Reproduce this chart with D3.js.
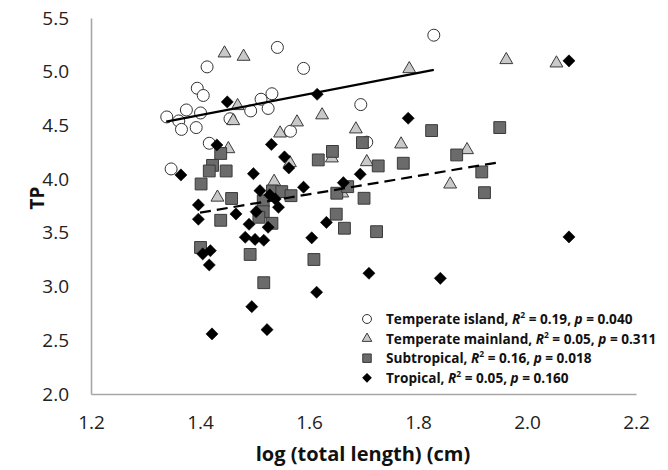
<!DOCTYPE html>
<html><head><meta charset="utf-8">
<script src="https://cdn.jsdelivr.net/npm/d3@7"></script>
<style>body{margin:0;background:#fff}svg{display:block}</style>
</head><body>
<svg id="c" width="668" height="470"></svg>
<script>
// ---- data ----
const xTicks = [1.2, 1.4, 1.6, 1.8, 2.0, 2.2];
const yTicks = [2.0, 2.5, 3.0, 3.5, 4.0, 4.5, 5.0, 5.5];

const islandX = [1.339,1.361,1.366,1.375,1.393,1.395,1.401,1.406,1.413,1.417,1.455,1.493,1.512,1.525,1.532,1.542,1.566,1.590,1.347,1.695,1.706,1.829];
const islandY = [4.579,4.542,4.463,4.644,4.480,4.846,4.616,4.779,5.045,4.334,4.562,4.635,4.744,4.658,4.795,5.226,4.446,5.031,4.095,4.694,4.344,5.340];

const mainlandX = [1.445,1.480,1.469,1.461,1.578,1.547,1.452,1.624,1.565,1.536,1.432,1.784,1.962,2.054,1.686,1.769,1.890,1.706,1.859,1.642,1.661];
const mainlandY = [5.172,5.141,4.682,4.542,4.530,4.427,4.281,4.596,4.151,3.977,3.830,5.026,5.110,5.079,4.465,4.325,4.272,4.160,3.952,4.195,3.869];

const subX = [1.438,1.423,1.417,1.448,1.402,1.458,1.438,1.617,1.643,1.533,1.550,1.567,1.516,1.516,1.508,1.532,1.651,1.650,1.401,1.492,1.609,1.517,1.698,1.825,1.950,1.727,1.773,1.871,1.917,1.922,1.671,1.701,1.665,1.724];
const subY = [4.239,4.128,4.076,4.076,3.955,3.820,3.617,4.179,4.258,3.890,3.884,3.846,3.797,3.697,3.645,3.589,3.869,3.674,3.364,3.299,3.252,3.036,4.340,4.452,4.480,4.123,4.148,4.225,4.067,3.874,3.930,3.822,3.543,3.511];

const tropX = [1.450,1.615,1.431,1.531,1.555,1.563,1.365,1.498,1.590,1.510,1.528,1.538,1.544,1.503,1.397,1.397,1.466,1.490,1.525,1.483,1.501,1.517,1.632,1.605,1.405,1.419,1.417,1.614,1.495,1.422,1.523,1.782,2.077,1.694,1.663,2.077,1.710,1.841];
const tropY = [4.719,4.790,4.318,4.323,4.207,4.104,4.039,4.051,3.925,3.893,3.853,3.816,3.738,3.697,3.760,3.627,3.676,3.580,3.552,3.459,3.439,3.431,3.597,3.454,3.304,3.334,3.201,2.947,2.813,2.559,2.599,4.567,5.101,4.046,3.967,3.462,3.124,3.077];

// fitted regression lines [x0, y0, x1, y1]
const islandFit = [1.338, 4.535, 1.829, 5.017];
const subFit = [1.400, 3.688, 1.952, 4.160];

const legendLabels = [
  {name: "Temperate island", r2: "0.19", p: "0.040"},
  {name: "Temperate mainland", r2: "0.05", p: "0.311"},
  {name: "Subtropical", r2: "0.16", p: "0.018"},
  {name: "Tropical", r2: "0.05", p: "0.160"}
];

// ---- drawing ----
const svg = d3.select("#c");
const x = d3.scaleLinear().domain([1.2, 2.2]).range([91, 636]);
const y = d3.scaleLinear().domain([2.0, 5.5]).range([394, 18]);
const FONT = "'Open Sans', Lato, sans-serif";

// axes
const gx = svg.append("g").attr("transform", "translate(0,394)")
  .call(d3.axisBottom(x).tickValues(xTicks).tickFormat(d3.format(".1f")).tickSize(0).tickPadding(22));
const gy = svg.append("g").attr("transform", "translate(91,0)")
  .call(d3.axisLeft(y).tickValues(yTicks).tickFormat(d3.format(".1f")).tickSize(0).tickPadding(22));
[gx, gy].forEach(g => {
  g.select(".domain").attr("stroke", "#a6a6a6").attr("stroke-width", 1.6);
  g.selectAll("text").attr("font-family", FONT).attr("font-size", 19).attr("fill", "#222");
});

const styles = {
  circle: {fill: "#fff", stroke: "#333", sw: 1},
  tri: {fill: "#c9c9c9", stroke: "#3a3a3a", sw: 1},
  sq: {fill: "#6b6b6b", stroke: "#3a3a3a", sw: 1},
  dia: {fill: "#000", stroke: "#000", sw: 0.5}
};
const symbols = {
  circle: d3.symbol().type(d3.symbolCircle).size(Math.PI * 36),
  tri: d3.symbol().type(d3.symbolTriangle).size(72),
  sq: d3.symbol().type(d3.symbolSquare).size(140),
  dia: d3.symbol().type(d3.symbolSquare).size(74)
};
function drawSeries(xs, ys, key) {
  const st = styles[key];
  const pts = xs.map((v, i) => [v, ys[i]]);
  svg.append("g").selectAll("path").data(pts).join("path")
    .attr("d", symbols[key])
    .attr("transform", d => `translate(${x(d[0])},${y(d[1])})` + (key === "dia" ? " rotate(45)" : ""))
    .attr("fill", st.fill).attr("stroke", st.stroke).attr("stroke-width", st.sw);
}
drawSeries(islandX, islandY, "circle");
drawSeries(mainlandX, mainlandY, "tri");
drawSeries(subX, subY, "sq");
drawSeries(tropX, tropY, "dia");

// regression lines
svg.append("line").attr("x1", x(islandFit[0])).attr("y1", y(islandFit[1]))
  .attr("x2", x(islandFit[2])).attr("y2", y(islandFit[3]))
  .attr("stroke", "#000").attr("stroke-width", 2.2);
svg.append("line").attr("x1", x(subFit[0])).attr("y1", y(subFit[1]))
  .attr("x2", x(subFit[2])).attr("y2", y(subFit[3]))
  .attr("stroke", "#000").attr("stroke-width", 2.2).attr("stroke-dasharray", "11,6");

// axis titles
svg.append("text").attr("x", 363).attr("y", 461).attr("text-anchor", "middle")
  .attr("font-family", FONT).attr("font-weight", "bold").attr("font-size", 20).attr("fill", "#111")
  .text("log (total length) (cm)");
svg.append("text").attr("transform", "translate(44,198) rotate(-90)").attr("text-anchor", "middle")
  .attr("font-family", FONT).attr("font-weight", "bold").attr("font-size", 19).attr("fill", "#111")
  .text("TP");

// legend
const legKeys = ["circle", "tri", "sq", "dia"];
const legSym = {
  circle: d3.symbol().type(d3.symbolCircle).size(Math.PI * 20),
  tri: d3.symbol().type(d3.symbolTriangle).size(40),
  sq: d3.symbol().type(d3.symbolSquare).size(72),
  dia: d3.symbol().type(d3.symbolSquare).size(34)
};
const leg = svg.append("g");
legendLabels.forEach((L, i) => {
  const cy = 319 + i * 19.6;
  const k = legKeys[i], st = styles[k];
  leg.append("path").attr("d", legSym[k])
    .attr("transform", `translate(367,${cy})` + (k === "dia" ? " rotate(45)" : ""))
    .attr("fill", st.fill).attr("stroke", st.stroke).attr("stroke-width", 1);
  const t = leg.append("text").attr("x", 386).attr("y", cy + 5)
    .attr("font-family", FONT).attr("font-weight", "bold").attr("font-size", 13.6).attr("fill", "#111");
  t.append("tspan").text(L.name + ", ");
  t.append("tspan").attr("font-style", "italic").text("R");
  t.append("tspan").attr("font-size", 8.5).attr("dy", -6).text("2");
  t.append("tspan").attr("dy", 6).text(" = " + L.r2 + ", ");
  t.append("tspan").attr("font-style", "italic").text("p");
  t.append("tspan").text(" = " + L.p);
});
</script>
</body></html>
